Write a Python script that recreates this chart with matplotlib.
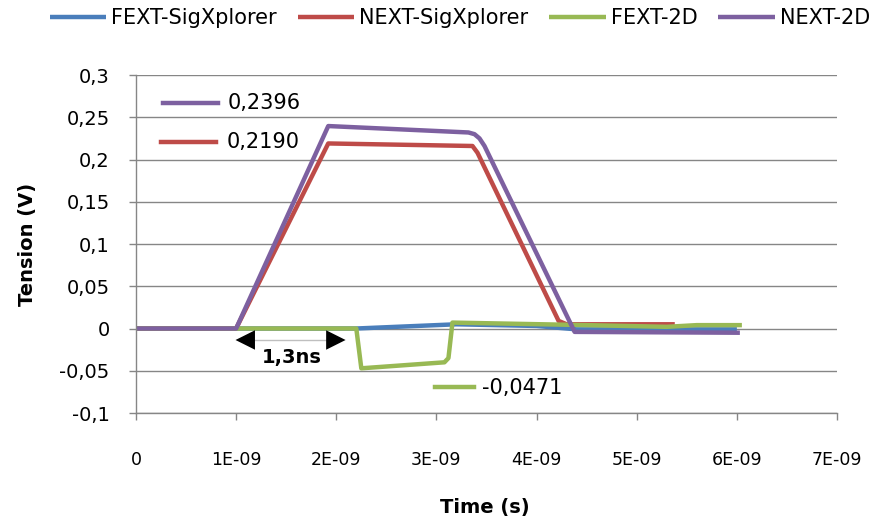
import numpy as np
import matplotlib
matplotlib.use('Agg')
import matplotlib.pyplot as plt
from matplotlib.ticker import FuncFormatter, MultipleLocator

plt.rcParams['font.family'] = ['DejaVu Sans']

# time values in ns, voltages in V
fext_sig_t = [0, 1.0, 2.2, 3.2, 4.0, 4.4, 6.0]
fext_sig_v = [0, 0, 0, 0.005, 0.003, -0.001, -0.001]

next_sig_t = [0, 1.0, 1.92, 3.36, 3.41, 4.22, 4.30, 5.38]
next_sig_v = [0, 0, 0.219, 0.216, 0.208, 0.009, 0.005, 0.005]

fext_2d_t = [0, 1.0, 2.2, 2.25, 3.08, 3.12, 3.16, 4.5, 5.3, 5.6, 6.05]
fext_2d_v = [0, 0, 0, -0.0471, -0.040, -0.035, 0.007, 0.004, 0.002, 0.004, 0.004]

next_2d_t = [0, 1.0, 1.92, 3.32, 3.38, 3.43, 3.48, 4.38, 6.03]
next_2d_v = [0, 0, 0.2396, 0.232, 0.230, 0.225, 0.216, -0.004, -0.005]

labels = ['FEXT-SigXplorer', 'NEXT-SigXplorer', 'FEXT-2D', 'NEXT-2D']
colors = ['#4A7EBB', '#BE4B48', '#98B954', '#7D60A0']

series = [(fext_sig_t, fext_sig_v), (next_sig_t, next_sig_v),
          (fext_2d_t, fext_2d_v), (next_2d_t, next_2d_v)]

fig = plt.figure(figsize=(8.75, 5.22), dpi=100)
ax = fig.add_axes([0.1554, 0.2088, 0.9566 - 0.1554, 0.8563 - 0.2088])

for (t, v), lab, c in zip(series, labels, colors):
    ax.plot(np.array(t) * 1e-9, v, color=c, lw=3.2, label=lab,
            solid_joinstyle='round', solid_capstyle='butt')

ax.set_xlim(0, 7e-9)
ax.set_ylim(-0.1, 0.3)
ax.xaxis.set_major_locator(MultipleLocator(1e-9))
ax.yaxis.set_major_locator(MultipleLocator(0.05))


def xfmt(v, pos):
    if abs(v) < 1e-15:
        return '0'
    return f'{v:.0E}'


def yfmt(v, pos):
    v = round(v, 3)
    if v == 0:
        return '0'
    return f'{v:g}'.replace('.', ',')


ax.xaxis.set_major_formatter(FuncFormatter(xfmt))
ax.yaxis.set_major_formatter(FuncFormatter(yfmt))

grey = '#868686'
ax.grid(axis='y', color=grey, lw=1)
ax.set_axisbelow(True)
for s in ['top', 'right']:
    ax.spines[s].set_visible(False)
for s in ['left', 'bottom']:
    ax.spines[s].set_color(grey)
    ax.spines[s].set_linewidth(1)
ax.tick_params(axis='both', colors=grey, labelcolor='black', labelsize=14,
               length=5, width=1, direction='out')
ax.tick_params(axis='x', pad=22, labelsize=12.5)
ax.tick_params(axis='y', pad=14)

fig.text(28 / 875, 1 - 244 / 522, 'Tension (V)', rotation=90, fontsize=14,
         fontweight='bold', ha='center', va='center')
fig.text(485 / 875, 1 - 507 / 522, 'Time (s)', fontsize=14,
         fontweight='bold', ha='center', va='center')

fig.legend(loc='center', bbox_to_anchor=(460 / 875, 1 - 18 / 522), ncol=4,
           frameon=False, fontsize=15, handlelength=2.7, handletextpad=0.25,
           columnspacing=1.0, borderpad=0)

# value callouts
tr = ax.transAxes
ax.plot([0.0385, 0.117], [0.918, 0.918], color=colors[3], lw=3.2, transform=tr)
ax.text(0.131, 0.916, '0,2396', fontsize=15, va='center', transform=tr)
ax.plot([0.0357, 0.114], [0.803, 0.803], color=colors[1], lw=3.2, transform=tr)
ax.text(0.130, 0.801, '0,2190', fontsize=15, va='center', transform=tr)
ax.plot([0.4265, 0.482], [0.076, 0.076], color=colors[2], lw=3.2, transform=tr)
ax.text(0.4936, 0.074, '-0,0471', fontsize=15, va='center', transform=tr)

# 1,3ns arrow
ax.plot([0.15, 0.29], [0.216, 0.216], color='#BFBFBF', lw=1, transform=tr)
for a, b in [(0.18, 0.142), (0.261, 0.299)]:
    ax.annotate('', xy=(b, 0.216), xytext=(a, 0.216), xycoords=tr,
                textcoords=tr,
                arrowprops=dict(arrowstyle='-|>,head_length=1.0,head_width=0.5',
                                mutation_scale=14, lw=0, color='black',
                                shrinkA=0, shrinkB=0))
ax.text(0.2225, 0.163, '1,3ns', fontsize=14, fontweight='bold',
        ha='center', va='center', transform=tr)

fig.savefig('out.png', dpi=100)
